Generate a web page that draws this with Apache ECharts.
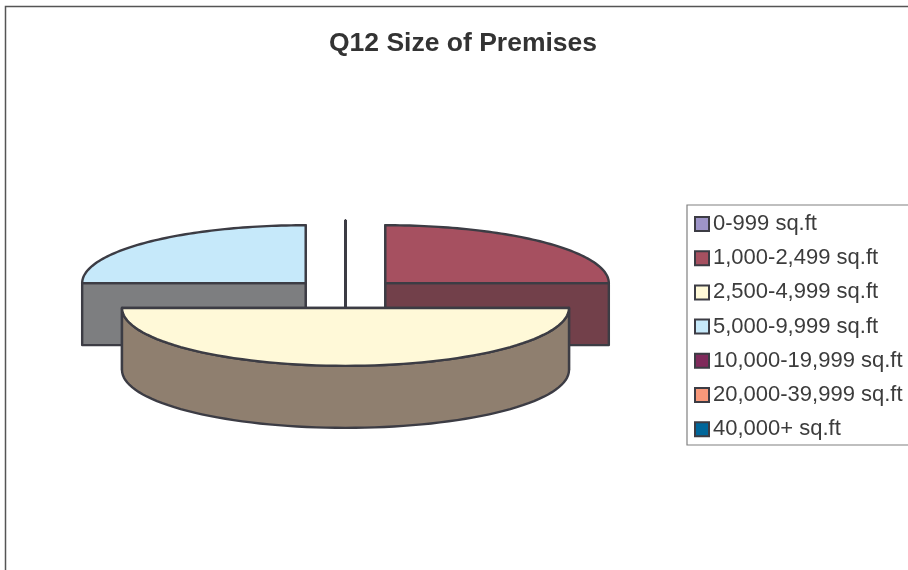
<!DOCTYPE html>
<html>
<head>
<meta charset="utf-8">
<title>Q12 Size of Premises</title>
<style>
  html, body { margin: 0; padding: 0; background: #fff; }
  #chart { width: 908px; height: 570px; }
</style>
<script src="https://cdn.jsdelivr.net/npm/echarts@6/dist/echarts.min.js"></script>
</head>
<body>
<div id="chart"></div>
<script>
const categories = [
  '0-999 sq.ft',
  '1,000-2,499 sq.ft',
  '2,500-4,999 sq.ft',
  '5,000-9,999 sq.ft',
  '10,000-19,999 sq.ft',
  '20,000-39,999 sq.ft',
  '40,000+ sq.ft'
];
const shares = [0, 25, 50, 25, 0, 0, 0];
const topColors = ['#9d94c8', '#a65060', '#fff9d8', '#c6e9fa', '#7f2a5b', '#f7987a', '#00669a'];
const wallColors = ['#5e5878', '#72404a', '#8f7f6f', '#7d7e80', '#4c1936', '#945b49', '#003d5c'];

const TOTAL = shares.reduce((a, b) => a + b, 0);
const SQUASH = 58 / 224; // tilt of the pie
const DEPTH = 62;
const EXPLODE = 0.252; // on the radius axis
const EDGE = '#3c3c44';

const chart = echarts.init(document.getElementById('chart'));

// Draws one exploded 3D slice; the angles go through the polar axes
const renderSlice = (color, wall) => (params, api) => {
  const start = api.value(1);
  const end = api.value(2);
  const mid = (start + end) / 2;
  const centre = api.coord([0, 0]);
  const shift = api.coord([EXPLODE, mid]);

  const project = (r, a, drop) => {
    const p = api.coord([r, a]);
    const dx = p[0] - centre[0] + shift[0] - centre[0];
    const dy = p[1] - centre[1] + shift[1] - centre[1];
    return [centre[0] + dx, centre[1] + dy * SQUASH + drop];
  };
  const arc = (from, to, drop) => {
    const pts = [];
    for (let i = 0; i <= 72; i++) {
      pts.push(project(1, from + ((to - from) * i) / 72, drop));
    }
    return pts;
  };
  const poly = (points, fill) => ({
    type: 'polygon',
    shape: { points },
    style: { fill, stroke: EDGE, lineWidth: 2.4, lineJoin: 'round' }
  });

  // Radial cuts, the one nearer the viewer last
  const cut = (a) =>
    poly([project(0, a, 0), project(1, a, 0), project(1, a, DEPTH), project(0, a, DEPTH)], wall);
  const cuts = [start, end]
    .sort((a, b) => project(1, a, 0)[1] - project(1, b, 0)[1])
    .map(cut);

  // Outer wall, only the part that faces the viewer
  const children = cuts;
  const from = Math.max(start, TOTAL / 4);
  const to = Math.min(end, (TOTAL * 3) / 4);
  if (to > from) {
    children.push(poly(arc(from, to, 0).concat(arc(from, to, DEPTH).reverse()), wall));
  }

  children.push(poly([project(0, start, 0)].concat(arc(start, end, 0)), color));
  return { type: 'group', children };
};

let running = 0;
const series = categories.map((name, i) => {
  const start = running;
  running += shares[i];
  const mid = (start + running) / 2;
  return {
    name,
    type: 'custom',
    coordinateSystem: 'polar',
    silent: true,
    clip: false,
    z: 2 + Math.round((1 - Math.cos((mid / TOTAL) * 2 * Math.PI)) * 10),
    itemStyle: { color: topColors[i] },
    renderItem: renderSlice(topColors[i], wallColors[i]),
    data: [[1, start, running]]
  };
});

const option = {
  animation: false,
  backgroundColor: '#fff',
  title: {
    text: 'Q12 Size of Premises',
    left: 458,
    top: 25,
    textAlign: 'center',
    textStyle: { fontFamily: 'Liberation Sans', fontSize: 26.5, fontWeight: 'bold', color: '#333' }
  },
  polar: { center: [345.5, 293.4], radius: [0, 223.5] },
  angleAxis: { type: 'value', min: 0, max: TOTAL, startAngle: 90, show: false },
  radiusAxis: { type: 'value', min: 0, max: 1, show: false },
  legend: {
    orient: 'vertical',
    left: 694,
    top: 213,
    padding: 0,
    itemWidth: 14,
    itemHeight: 14,
    itemGap: 12.2,
    icon: 'rect',
    selectedMode: false,
    itemStyle: { borderColor: EDGE, borderWidth: 2 },
    textStyle: { fontFamily: 'Liberation Sans', fontSize: 22, color: '#3c3c3c', height: 14, lineHeight: 14, padding: [0, 0, 0, -1] },
    data: categories
  },
  graphic: [
    // Chart frame and legend box run off the right and bottom of the page
    {
      type: 'rect',
      silent: true,
      z: 0,
      shape: { x: 5.5, y: 6.5, width: 1000, height: 1000 },
      style: { fill: 'none', stroke: '#555', lineWidth: 1.5 }
    },
    {
      type: 'rect',
      silent: true,
      z: 1,
      shape: { x: 687, y: 205, width: 300, height: 240 },
      style: { fill: '#fff', stroke: '#808080', lineWidth: 1.2 }
    }
  ],
  series
};

chart.setOption(option);
window.addEventListener('resize', () => chart.resize());
</script>
</body>
</html>
